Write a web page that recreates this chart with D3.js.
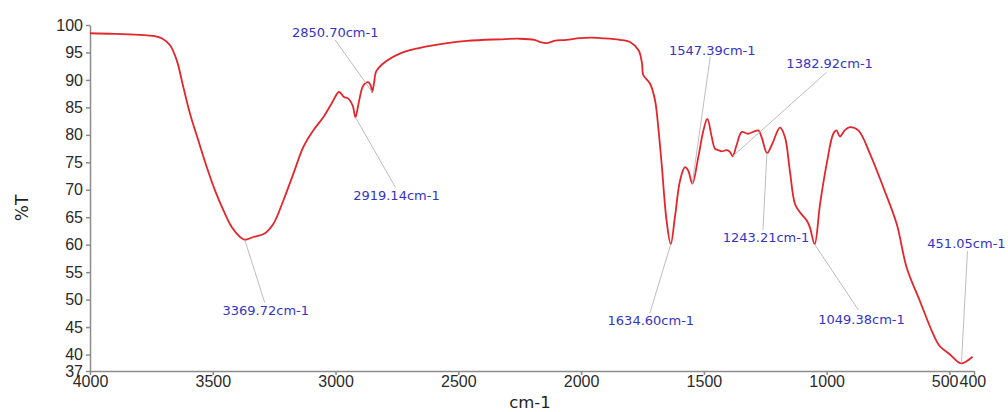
<!DOCTYPE html>
<html>
<head>
<meta charset="utf-8">
<script src="https://cdn.jsdelivr.net/npm/d3@7"></script>
<style>
  body { margin: 0; background: #fff; }
  svg { display: block; font-family: "DejaVu Sans", "Liberation Sans", Arial, sans-serif; }
  .axis path, .axis line { stroke: #8c8c8c; stroke-width: 1.5; }
  .axis text { font-size: 16px; fill: #2a2a2a; }
</style>
</head>
<body>
<div id="chart"></div>
<script>
// Wavenumbers (cm-1) and transmittance (%T)
const wavenumbers = [4000, 3900, 3796, 3740, 3708, 3674, 3647, 3620, 3593, 3559, 3525, 3491, 3457, 3423, 3389,
  3370, 3335, 3287, 3253, 3213, 3172, 3131, 3091, 3050, 3016, 2986, 2966, 2948, 2930, 2919, 2905, 2887, 2867,
  2857, 2851, 2843, 2835, 2806, 2738, 2660, 2603, 2466, 2330, 2250, 2190, 2167, 2140, 2110, 2060, 2005, 1960,
  1923, 1842, 1801, 1766, 1752, 1747, 1719, 1699, 1685, 1672, 1652, 1635, 1618, 1597, 1577, 1564, 1547, 1523,
  1502, 1486, 1468, 1455, 1440, 1428, 1407, 1394, 1383, 1367, 1346, 1320, 1279, 1265, 1243, 1224, 1190, 1170,
  1150, 1129, 1109, 1081, 1068, 1049, 1027, 1000, 973, 960, 946, 925, 905, 871, 824, 769, 715, 674, 620, 566,
  539, 498, 464, 451, 437, 406];
const transmittance = [98.5, 98.4, 98.2, 98.0, 97.6, 96.3, 93.6, 88.7, 83.9, 79.0, 74.2, 69.9, 66.3, 63.2, 61.4,
  60.9, 61.4, 62.1, 63.8, 68.0, 72.9, 77.8, 80.8, 83.2, 85.7, 87.8, 86.9, 86.6, 85.3, 83.2, 86.0, 89.0, 89.6,
  89.0, 87.8, 89.5, 91.5, 93.0, 94.8, 95.8, 96.3, 97.1, 97.4, 97.5, 97.3, 96.9, 96.7, 97.1, 97.3, 97.6, 97.7,
  97.6, 97.3, 96.9, 95.4, 93.0, 90.9, 89.3, 86.3, 81.0, 74.7, 64.4, 60.1, 65.0, 71.7, 74.1, 73.5, 71.1, 75.9,
  80.8, 82.9, 79.6, 77.5, 77.2, 77.0, 77.2, 76.9, 76.1, 78.1, 80.5, 80.2, 80.8, 79.6, 76.7, 78.1, 81.3, 79.6,
  73.5, 67.4, 65.9, 64.4, 63.1, 60.1, 67.4, 74.7, 80.2, 80.8, 79.7, 80.9, 81.4, 80.8, 76.6, 70.4, 63.8, 55.8, 49.7, 43.7,
  41.5, 40.0, 38.6, 38.4, 38.6, 39.6];

// Labelled peaks
const peakWavenumbers = [3369.72, 2919.14, 2850.70, 1634.60, 1547.39, 1382.92, 1243.21, 1049.38, 451.05];
const peakTransmittance = [60.9, 83.2, 87.8, 60.1, 71.1, 76.1, 76.7, 60.1, 38.4];

const xTicks = [4000, 3500, 3000, 2500, 2000, 1500, 1000, 500, 400];
const yTicks = [100, 95, 90, 85, 80, 75, 70, 65, 60, 55, 50, 45, 40, 37];

// label placement relative to the peak point (text centre, end of leader line)
const labelLayout = [
  { tx: 21, ty: 71, lx: 20, ly: 63 },
  { tx: 41, ty: 78, lx: 40, ly: 70 },
  { tx: -37, ty: -60, lx: -37, ly: -52 },
  { tx: -20, ty: 76, lx: -21, ly: 69 },
  { tx: 20, ty: -133, lx: 18, ly: -127 },
  { tx: 97, ty: -93, lx: 94, ly: -84 },
  { tx: -1, ty: 84, lx: -4, ly: 77 },
  { tx: 47, ty: 75, lx: 44, ly: 66 },
  { tx: 5, ty: -120, lx: 6, ly: -112 }
];

const W = 1008, H = 412;
const svg = d3.select("#chart").append("svg")
  .attr("width", W)
  .attr("height", H);

const x = d3.scaleLinear().domain([4000, 400]).range([90, 974]);
const y = d3.scaleLinear().domain([37, 100]).range([371, 25]);

// Axlar
svg.append("g")
  .attr("class", "axis")
  .attr("transform", `translate(0, ${y(37)})`)
  .call(d3.axisBottom(x).tickValues(xTicks).tickSize(4).tickPadding(1).tickSizeOuter(0).tickFormat(d3.format("d")));

svg.append("g")
  .attr("class", "axis")
  .attr("transform", `translate(${x(4000)}, 0)`)
  .call(d3.axisLeft(y).tickValues(yTicks).tickSize(4).tickPadding(3).tickSizeOuter(0));

// 500 and 400 labels sit together as "500400"
svg.selectAll(".axis text")
  .filter(d => d === 500).attr("text-anchor", "end").attr("dx", "8.5");
svg.selectAll(".axis text")
  .filter(d => d === 400).attr("text-anchor", "start").attr("dx", "-15");

svg.append("text")
  .attr("x", 530).attr("y", 408)
  .attr("text-anchor", "middle")
  .style("font-size", "16.5px").style("fill", "#1e1e1e")
  .text("cm-1");

svg.append("text")
  .attr("transform", "translate(28, 208) rotate(-90)")
  .attr("text-anchor", "middle")
  .style("font-size", "17px").style("fill", "#1e1e1e")
  .text("%T");

// Spektrum
const points = wavenumbers.map((w, i) => ({ w: w, t: transmittance[i] }));
const line = d3.line()
  .x(d => x(d.w))
  .y(d => y(d.t))
  .curve(d3.curveCatmullRom.alpha(0.5));

svg.append("path")
  .datum(points)
  .attr("fill", "none")
  .attr("stroke", "#e3262c")
  .attr("stroke-width", 1.8)
  .attr("stroke-linejoin", "round")
  .attr("d", line);

// Peak labels
peakWavenumbers.forEach((w, i) => {
  const px = x(w), py = y(peakTransmittance[i]);
  const l = labelLayout[i];
  svg.append("line")
    .attr("x1", px).attr("y1", py)
    .attr("x2", px + l.lx).attr("y2", py + l.ly)
    .attr("stroke", "#bdbdbd")
    .attr("stroke-width", 1);
  svg.append("text")
    .attr("x", px + l.tx).attr("y", py + l.ty)
    .attr("dy", "0.35em")
    .attr("text-anchor", "middle")
    .style("font-size", "13px")
    .style("fill", "#3434c4")
    .text(w.toFixed(2) + "cm-1");
});
</script>
</body>
</html>
